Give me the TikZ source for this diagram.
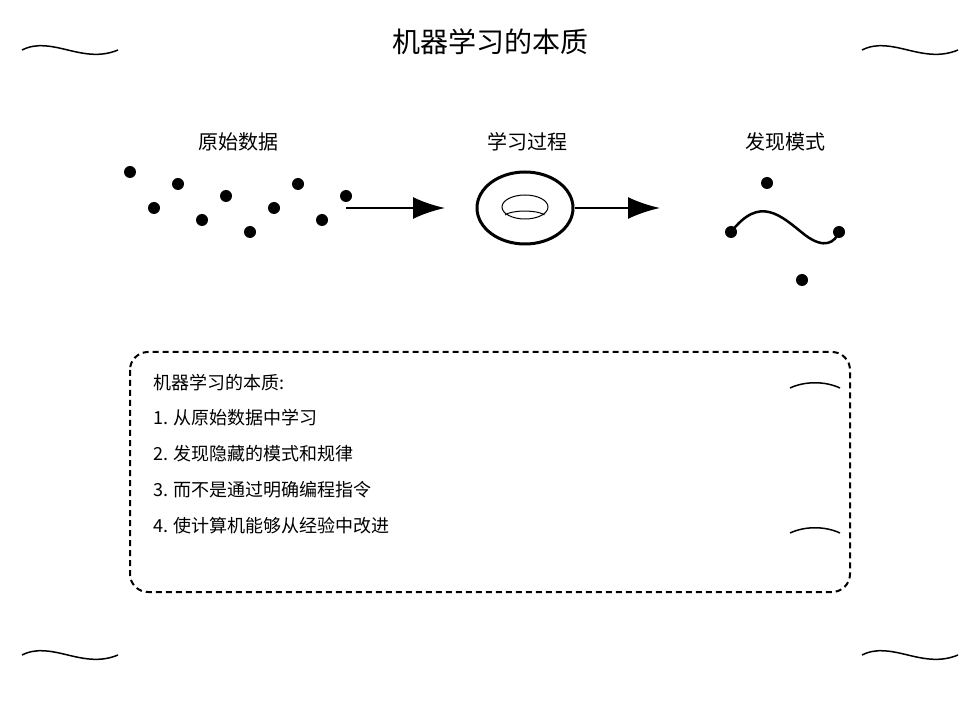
\documentclass[tikz,border=0pt]{standalone}
\usepackage{fontspec}
\setmainfont{Noto Sans CJK SC}
\usetikzlibrary{arrows.meta,shapes.geometric}
\tikzset{
  >=Latex,
  dot/.style={circle,fill=black,inner sep=0pt,minimum size=12pt},
  flow/.style={->,line width=2.5pt,-{Latex[length=32pt,width=22pt]}},
  squiggle/.style={line width=1.5pt},
  item/.style={anchor=west,font=\fontsize{18}{20}\selectfont}
}
\begin{document}
\begin{tikzpicture}[x=1pt,y=-1pt]
  \useasboundingbox (0,0) rectangle (980,708);
  \node (title) at (490,42) {\fontsize{28}{32}\selectfont 机器学习的本质};
  % corner squiggles
  \foreach \x/\y in {22/50,862/50,22/655,862/655}
    \draw[squiggle] (\x,\y) .. controls (\x+30,\y-15) and (\x+60,\y+15) .. (\x+96,\y);
  % raw data
  \node (lraw) at (238,142) {\fontsize{20}{22}\selectfont 原始数据};
  \foreach \x/\y [count=\i] in {130/172,154/208,178/184,202/220,226/196,250/232,274/208,298/184,322/220,346/196}
    \node[dot] (d\i) at (\x,\y) {};
  \coordinate (a1) at (346,208);
  \coordinate (a2) at (445,208);
  \draw[flow] (a1) -- (a2);
  % learning
  \node (lproc) at (527,142) {\fontsize{20}{22}\selectfont 学习过程};
  \node[draw,ellipse,line width=3pt,minimum width=96pt,minimum height=72pt] (proc) at (525,208) {};
  \draw[line width=1pt] (525,207) ellipse (23 and 12);
  \draw[line width=1pt] (505,215) arc (200:340:21 and 6);
  \coordinate (b2) at (660,208);
  \draw[flow] (proc.east) -- (b2);
  % patterns
  \node (lpat) at (785,142) {\fontsize{20}{22}\selectfont 发现模式};
  \node[dot] (p1) at (767,183) {};
  \node[dot] (p2) at (731,232) {};
  \node[dot] (p3) at (839,232) {};
  \node[dot] (p4) at (802,280) {};
  \draw[line width=2.5pt] (p2.center) .. controls (760,195) and (780,215) .. (805,235)
    .. controls (825,250) and (835,242) .. (p3.center);
  % summary box
  \draw[line width=2pt,dash pattern=on 6pt off 4pt,rounded corners=18pt] (130,352) rectangle (850,592);
  \foreach \y in {385,530}
    \draw[squiggle] (790,\y+3) .. controls (805,\y-4) and (825,\y-4) .. (840,\y+3);
  \node[item] (s0) at (150,383) {机器学习的本质:};
  \node[item] (s1) at (150,418) {1. 从原始数据中学习};
  \node[item] (s2) at (150,454) {2. 发现隐藏的模式和规律};
  \node[item] (s3) at (150,490) {3. 而不是通过明确编程指令};
  \node[item] (s4) at (150,526) {4. 使计算机能够从经验中改进};
\end{tikzpicture}
\end{document}
